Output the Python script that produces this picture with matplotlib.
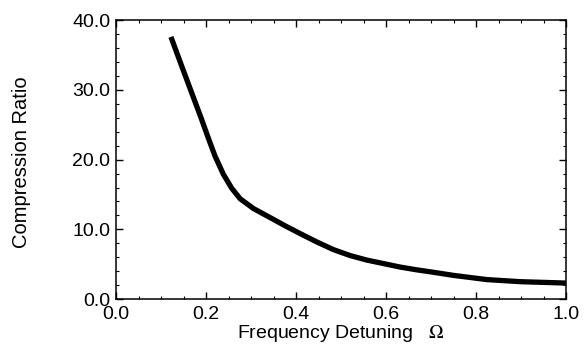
import matplotlib
matplotlib.use("Agg")
import matplotlib.pyplot as plt
from matplotlib.ticker import MultipleLocator, FormatStrFormatter

detuning = [0.122, 0.146, 0.168, 0.190, 0.205, 0.220, 0.2385, 0.257, 0.2756,
            0.305, 0.342, 0.379, 0.409, 0.446, 0.483, 0.520, 0.557, 0.594,
            0.631, 0.668, 0.705, 0.750, 0.824, 0.898, 0.950, 1.0]
compression = [37.6, 33.4, 29.6, 25.8, 23.1, 20.5, 17.9, 15.9, 14.4,
               13.0, 11.7, 10.4, 9.4, 8.2, 7.1, 6.25, 5.6, 5.1,
               4.6, 4.2, 3.85, 3.4, 2.8, 2.5, 2.4, 2.3]

plt.rcParams['font.family'] = ['Liberation Sans', 'DejaVu Sans']
plt.rcParams['mathtext.fontset'] = 'stix'

fig = plt.figure(figsize=(5.86, 3.47), dpi=100)
ax = fig.add_axes([0.198, 0.138, 0.768, 0.804])

ax.plot(detuning, compression, color='black', lw=3.8,
        solid_capstyle='butt', solid_joinstyle='round')

ax.set_xlim(0, 1.0)
ax.set_ylim(0, 40)
ax.xaxis.set_major_locator(MultipleLocator(0.2))
ax.xaxis.set_minor_locator(MultipleLocator(0.05))
ax.yaxis.set_major_locator(MultipleLocator(10))
ax.yaxis.set_minor_locator(MultipleLocator(2))
ax.xaxis.set_major_formatter(FormatStrFormatter('%.1f'))
ax.yaxis.set_major_formatter(FormatStrFormatter('%.1f'))
ax.tick_params(which='both', direction='in', top=True, right=True, labelsize=14)
ax.tick_params(which='major', length=5, width=1)
ax.tick_params(which='minor', length=2.5, width=0.8)
ax.tick_params(axis='x', which='major', pad=5)
ax.tick_params(axis='y', which='major', pad=4)
for s in ax.spines.values():
    s.set_linewidth(1.1)

ax.set_xlabel('Frequency Detuning   $\\Omega$', fontsize=14)
ax.xaxis.set_label_coords(0.5, -0.084)
ax.set_ylabel('Compression Ratio', fontsize=14.5)
ax.yaxis.set_label_coords(-0.19, 0.49)

fig.savefig('out.png', dpi=100)
